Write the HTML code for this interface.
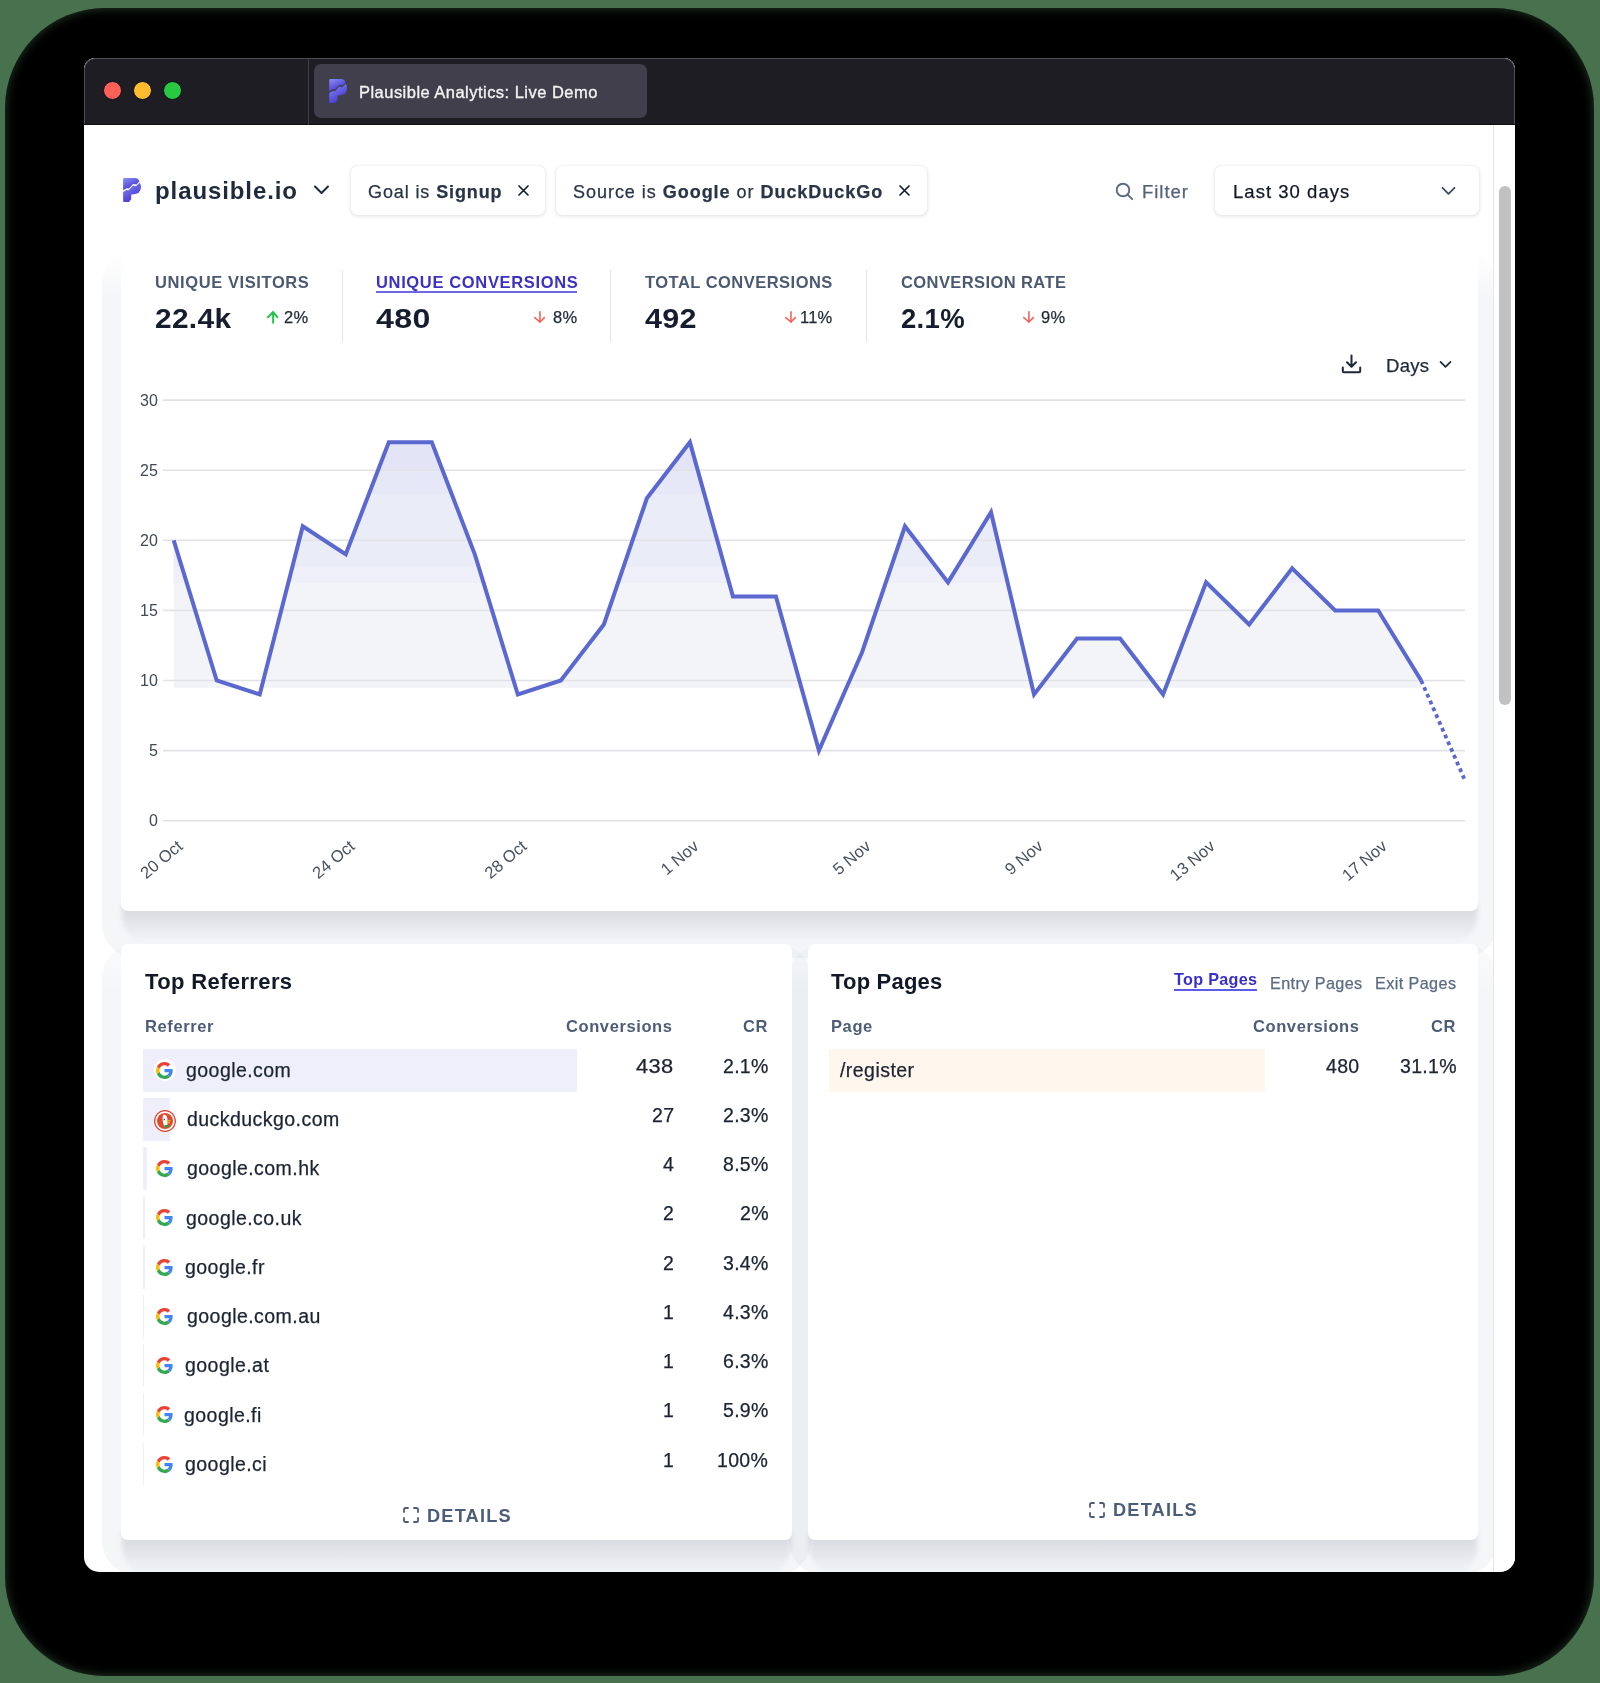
<!DOCTYPE html><html><head><meta charset="utf-8"><style>
*{box-sizing:border-box;margin:0;padding:0}
html,body{width:1600px;height:1683px;overflow:hidden;background:#48724e;font-family:"Liberation Sans", sans-serif}
.t{position:absolute;white-space:nowrap;will-change:transform}
.abs{position:absolute}
</style></head><body>

<div class="abs" style="left:5px;top:8px;width:1589px;height:1668px;background:#000;border-radius:100px;box-shadow:inset 0 0 10px 1px rgba(72,114,78,0.45)"></div>
<div class="abs" style="left:84px;top:58px;width:1431px;height:1514px;border-radius:11px 11px 15px 15px;background:#fff;overflow:hidden">
<div class="abs" style="left:0;top:0;width:1431px;height:67px;background:#1e1d24;border:1px solid #4d4c57;border-bottom:none;border-radius:11px 11px 0 0"></div>
<div class="abs" style="left:0;top:66px;width:1431px;height:1px;background:#0d0d10"></div>
<div class="abs" style="left:18.7px;top:22.8px;width:19.6px;height:19.6px;border-radius:50%;background:#fe5f57;border:1.1px solid #0d1320"></div>
<div class="abs" style="left:48.5px;top:22.8px;width:19.6px;height:19.6px;border-radius:50%;background:#febc2e;border:1.1px solid #0d1320"></div>
<div class="abs" style="left:78.5px;top:22.8px;width:19.6px;height:19.6px;border-radius:50%;background:#28c840;border:1.1px solid #0d1320"></div>
<div class="abs" style="left:223.5px;top:1px;width:1px;height:66px;background:#3e3e48"></div>
<div class="abs" style="left:230px;top:6px;width:332.5px;height:54.3px;background:#403f4b;border-radius:7px"></div>
<svg style="position:absolute;left:245px;top:21px" width="18.5" height="24" viewBox="0 0 18 24"><defs><linearGradient id="lg1" x1="0" y1="0" x2="0.6" y2="1"><stop offset="0" stop-color="#8a90f2"/><stop offset="1" stop-color="#4231d6"/></linearGradient></defs><path fill="url(#lg1)" d="M0 1.2Q0 0 1.2 0L12.3 0Q15.3 0 16.3 3.6L13.3 6.6L10.1 6.1L5.7 10.6L3.6 10.2L0 12.3Z"/><path fill="url(#lg1)" d="M0 14.1L3.4 11.9L5.6 12.3L10 7.6L12.9 8.2L16.5 4.8Q18 6.5 17.9 9.3Q17.6 16.3 9.6 16.4L8.1 16.4L8.1 21.2L5.9 24L1 24Q0 24 0 23Z"/></svg>
<div class="t" style="left:275px;top:23.80px;font-size:16.5px;line-height:16.50px;color:#f2f2f3;font-weight:400;letter-spacing:0.47px;-webkit-text-stroke:0.35px #f2f2f3;"><span style="position:relative;top:2.48px">Plausible Analytics: Live Demo</span></div>
<svg style="position:absolute;left:38.8px;top:120px" width="18.2" height="24" viewBox="0 0 18 24"><defs><linearGradient id="lg2" x1="0" y1="0" x2="0.6" y2="1"><stop offset="0" stop-color="#8a90f2"/><stop offset="1" stop-color="#4231d6"/></linearGradient></defs><path fill="url(#lg2)" d="M0 1.2Q0 0 1.2 0L12.3 0Q15.3 0 16.3 3.6L13.3 6.6L10.1 6.1L5.7 10.6L3.6 10.2L0 12.3Z"/><path fill="url(#lg2)" d="M0 14.1L3.4 11.9L5.6 12.3L10 7.6L12.9 8.2L16.5 4.8Q18 6.5 17.9 9.3Q17.6 16.3 9.6 16.4L8.1 16.4L8.1 21.2L5.9 24L1 24Q0 24 0 23Z"/></svg>
<div class="t" style="left:70.5px;top:117.00px;font-size:24px;line-height:24.00px;color:#1e293b;font-weight:700;letter-spacing:0.9px;"><span style="position:relative;top:3.60px">plausible.io</span></div>
<svg class="abs" style="left:229px;top:126px" width="17" height="12" viewBox="0 0 17 12"><path d="M2 2.5L8.5 9L15 2.5" fill="none" stroke="#1e293b" stroke-width="2" stroke-linecap="round" stroke-linejoin="round"/></svg>
<div class="abs" style="left:266.7px;top:108px;width:194.3px;height:48.7px;background:#fff;border-radius:6px;box-shadow:0 1px 4px rgba(20,30,60,.13),0 0 1px rgba(20,30,60,.18)"></div>
<div class="abs" style="left:471.8px;top:108px;width:370.9px;height:48.7px;background:#fff;border-radius:6px;box-shadow:0 1px 4px rgba(20,30,60,.13),0 0 1px rgba(20,30,60,.18)"></div>
<div class="abs" style="left:1131px;top:107.6px;width:263.5px;height:49.4px;background:#fff;border-radius:6px;box-shadow:0 1px 4px rgba(20,30,60,.13),0 0 1px rgba(20,30,60,.18)"></div>
<div class="t" style="left:284px;top:121.50px;font-size:18px;line-height:18.00px;color:#2a3447;font-weight:400;letter-spacing:0.89px;-webkit-text-stroke:0.25px #2a3447;"><span style="position:relative;top:2.70px">Goal is <b style="font-weight:700">Signup</b></span></div>
<div class="t" style="left:489px;top:121.50px;font-size:18px;line-height:18.00px;color:#2a3447;font-weight:400;letter-spacing:0.97px;-webkit-text-stroke:0.25px #2a3447;"><span style="position:relative;top:2.70px">Source is <b style="font-weight:700">Google</b> or <b style="font-weight:700">DuckDuckGo</b></span></div>
<svg class="abs" style="left:432.5px;top:126px" width="13" height="13" viewBox="0 0 13 13"><path d="M2 2L11 11M11 2L2 11" stroke="#101a2d" stroke-width="1.65" stroke-linecap="round"/></svg>
<svg class="abs" style="left:814px;top:126px" width="13" height="13" viewBox="0 0 13 13"><path d="M2 2L11 11M11 2L2 11" stroke="#101a2d" stroke-width="1.65" stroke-linecap="round"/></svg>
<svg class="abs" style="left:1031px;top:123.5px" width="19" height="19" viewBox="0 0 19 19"><circle cx="8" cy="8" r="6.3" fill="none" stroke="#5d6b82" stroke-width="1.9"/><path d="M12.6 12.6L17.2 17.2" stroke="#5d6b82" stroke-width="1.9" stroke-linecap="round"/></svg>
<div class="t" style="left:1057.5px;top:121.50px;font-size:18.5px;line-height:18.50px;color:#556379;font-weight:400;letter-spacing:0.98px;-webkit-text-stroke:0.25px #556379;"><span style="position:relative;top:2.77px">Filter</span></div>
<div class="t" style="left:1148.5px;top:121.50px;font-size:18.5px;line-height:18.50px;color:#111827;font-weight:400;letter-spacing:1.03px;-webkit-text-stroke:0.25px #111827;"><span style="position:relative;top:2.77px">Last 30 days</span></div>
<svg class="abs" style="left:1356.5px;top:127.5px" width="15" height="10" viewBox="0 0 15 10"><path d="M1.5 1.8L7.5 7.8L13.5 1.8" fill="none" stroke="#3a4a63" stroke-width="1.8" stroke-linecap="round" stroke-linejoin="round"/></svg>
<div class="abs" style="left:17.5px;top:192px;width:1395.5px;height:708px;border-radius:34px;background:linear-gradient(rgba(55,75,115,0.0) 0,rgba(55,75,115,0.05) 50px,rgba(55,75,115,0.05) 100%)"></div><div class="abs" style="left:37.5px;top:845px;width:1355.5px;height:41px;border-radius:0 0 28px 28px;filter:blur(2.5px);background:linear-gradient(rgba(40,45,70,0.14) 0,rgba(40,45,70,0.12) 25%,rgba(40,45,70,0.06) 62%,rgba(40,45,70,0) 100%)"></div>
<div class="abs" style="left:36.5px;top:178px;width:1357.5px;height:675px;background:#fff;border-radius:7px"></div>
<div class="t" style="left:70.5px;top:213.50px;font-size:16.5px;line-height:16.50px;color:#4b5a72;font-weight:700;letter-spacing:0.6px;"><span style="position:relative;top:2.48px">UNIQUE VISITORS</span></div>
<div class="t" style="left:292px;top:213.50px;font-size:16.5px;line-height:16.50px;color:#3b31c4;font-weight:700;letter-spacing:0.65px;"><span style="position:relative;top:2.48px">UNIQUE CONVERSIONS</span></div>
<div class="abs" style="left:292px;top:232.5px;width:201px;height:2px;background:#6d6ae0"></div>
<div class="t" style="left:560.5px;top:213.50px;font-size:16.5px;line-height:16.50px;color:#4b5a72;font-weight:700;letter-spacing:0.48px;"><span style="position:relative;top:2.48px">TOTAL CONVERSIONS</span></div>
<div class="t" style="left:816.5px;top:213.50px;font-size:16.5px;line-height:16.50px;color:#4b5a72;font-weight:700;letter-spacing:0.41px;"><span style="position:relative;top:2.48px">CONVERSION RATE</span></div>
<div class="t" style="left:70.5px;top:242.50px;font-size:27.5px;line-height:27.50px;color:#151d2e;font-weight:700;letter-spacing:0.3px;transform:scaleX(1.086);transform-origin:0 0;"><span style="position:relative;top:4.12px">22.4k</span></div>
<div class="t" style="left:292px;top:242.50px;font-size:27.5px;line-height:27.50px;color:#151d2e;font-weight:700;letter-spacing:0.3px;transform:scaleX(1.17);transform-origin:0 0;"><span style="position:relative;top:4.12px">480</span></div>
<div class="t" style="left:560.5px;top:242.50px;font-size:27.5px;line-height:27.50px;color:#151d2e;font-weight:700;letter-spacing:0.3px;transform:scaleX(1.11);transform-origin:0 0;"><span style="position:relative;top:4.12px">492</span></div>
<div class="t" style="left:816.5px;top:242.50px;font-size:27.5px;line-height:27.50px;color:#151d2e;font-weight:700;letter-spacing:0.3px;"><span style="position:relative;top:4.12px">2.1%</span></div>
<div class="abs" style="left:257.5px;top:212px;width:1px;height:72px;background:#e3e5e8"></div>
<div class="abs" style="left:525.9px;top:212px;width:1px;height:72px;background:#e3e5e8"></div>
<div class="abs" style="left:782.0px;top:212px;width:1px;height:72px;background:#e3e5e8"></div>
<svg class="abs" style="left:182.80px;top:252.60px;overflow:visible" width="12.3" height="13.8" viewBox="0 0 12.3 13.8"><path d="M6.15 11.8V1.3M1.0 6.2L6.15 1.0L10.3 6.2" fill="none" stroke="#20c54a" stroke-width="2.0" stroke-linecap="round" stroke-linejoin="round"/></svg>
<div class="t" style="right:1206.5px;top:249.20px;font-size:16.5px;line-height:16.50px;color:#1f2937;font-weight:400;letter-spacing:0.2px;text-align:right;-webkit-text-stroke:0.25px #1f2937;"><span style="position:relative;top:2.48px">2%</span></div>
<svg class="abs" style="left:450.00px;top:252.90px;overflow:visible" width="11.9" height="13.4" viewBox="0 0 11.9 13.4"><path d="M5.95 0.8V11.5M0.8 6.6L5.95 11.0L10.3 6.6" fill="none" stroke="#f0625a" stroke-width="1.6" stroke-linecap="round" stroke-linejoin="round"/></svg>
<div class="t" style="right:937.5px;top:249.20px;font-size:16.5px;line-height:16.50px;color:#1f2937;font-weight:400;letter-spacing:0.2px;text-align:right;-webkit-text-stroke:0.25px #1f2937;"><span style="position:relative;top:2.48px">8%</span></div>
<svg class="abs" style="left:701.40px;top:252.90px;overflow:visible" width="11.9" height="13.4" viewBox="0 0 11.9 13.4"><path d="M5.95 0.8V11.5M0.8 6.6L5.95 11.0L10.3 6.6" fill="none" stroke="#f0625a" stroke-width="1.6" stroke-linecap="round" stroke-linejoin="round"/></svg>
<div class="t" style="right:682.5px;top:249.20px;font-size:16.5px;line-height:16.50px;color:#1f2937;font-weight:400;letter-spacing:0.2px;text-align:right;-webkit-text-stroke:0.25px #1f2937;"><span style="position:relative;top:2.48px">11%</span></div>
<svg class="abs" style="left:939.30px;top:252.90px;overflow:visible" width="11.9" height="13.4" viewBox="0 0 11.9 13.4"><path d="M5.95 0.8V11.5M0.8 6.6L5.95 11.0L10.3 6.6" fill="none" stroke="#f0625a" stroke-width="1.6" stroke-linecap="round" stroke-linejoin="round"/></svg>
<div class="t" style="right:449.5px;top:249.20px;font-size:16.5px;line-height:16.50px;color:#1f2937;font-weight:400;letter-spacing:0.2px;text-align:right;-webkit-text-stroke:0.25px #1f2937;"><span style="position:relative;top:2.48px">9%</span></div>
<svg class="abs" style="left:1257px;top:295.5px" width="21" height="20" viewBox="0 0 21 20"><path d="M10.5 1.5V12.5M6 8.3L10.5 12.8L15 8.3" fill="none" stroke="#1e293b" stroke-width="2" stroke-linecap="round" stroke-linejoin="round"/><path d="M1.8 13.5V17.2Q1.8 18.3 2.9 18.3H18.1Q19.2 18.3 19.2 17.2V13.5" fill="none" stroke="#1e293b" stroke-width="2" stroke-linecap="round"/></svg>
<div class="t" style="left:1301.5px;top:295.50px;font-size:18.5px;line-height:18.50px;color:#1e293b;font-weight:400;letter-spacing:0.3px;-webkit-text-stroke:0.25px #1e293b;"><span style="position:relative;top:2.77px">Days</span></div>
<svg class="abs" style="left:1355px;top:302px" width="13" height="9" viewBox="0 0 13 9"><path d="M1.5 1.8L6.5 6.8L11.5 1.8" fill="none" stroke="#1e293b" stroke-width="1.7" stroke-linecap="round" stroke-linejoin="round"/></svg>
<svg class="abs" style="left:0;top:0" width="1431" height="1514" viewBox="84 58 1431 1514"><defs><linearGradient id="fillg" gradientUnits="userSpaceOnUse" x1="0" y1="400" x2="0" y2="821"><stop offset="0" stop-color="#e3e5f6"/><stop offset="0.166" stop-color="#e3e5f6"/><stop offset="0.166" stop-color="#e6e8f7"/><stop offset="0.223" stop-color="#e6e8f7"/><stop offset="0.223" stop-color="#eaecf8"/><stop offset="0.397" stop-color="#eaecf8"/><stop offset="0.397" stop-color="#eeeff9"/><stop offset="0.435" stop-color="#eeeff9"/><stop offset="0.435" stop-color="#f3f4f7"/><stop offset="0.684" stop-color="#f3f4f7"/><stop offset="0.684" stop-color="#ffffff" stop-opacity="0"/><stop offset="1" stop-color="#ffffff" stop-opacity="0"/></linearGradient></defs><polygon points="173.70,540.30 216.72,680.50 259.73,694.52 302.75,526.28 345.77,554.32 388.78,442.16 431.80,442.16 474.82,554.32 517.83,694.52 560.85,680.50 603.87,624.42 646.88,498.24 689.90,442.16 732.92,596.38 775.93,596.38 818.95,750.60 861.97,652.46 904.98,526.28 948.00,582.36 991.02,512.26 1034.03,694.52 1077.05,638.44 1120.07,638.44 1163.08,694.52 1206.10,582.36 1249.12,624.42 1292.13,568.34 1335.15,610.40 1378.17,610.40 1421.18,680.50 1421.18,820.7 173.70,820.7" fill="url(#fillg)"/><line x1="163" y1="820.70" x2="1465" y2="820.70" stroke="#e1e2e5" stroke-width="1.6"/><line x1="163" y1="750.60" x2="1465" y2="750.60" stroke="#e1e2e5" stroke-width="1.6"/><line x1="163" y1="680.50" x2="1465" y2="680.50" stroke="#e1e2e5" stroke-width="1.6"/><line x1="163" y1="610.40" x2="1465" y2="610.40" stroke="#e1e2e5" stroke-width="1.6"/><line x1="163" y1="540.30" x2="1465" y2="540.30" stroke="#e1e2e5" stroke-width="1.6"/><line x1="163" y1="470.20" x2="1465" y2="470.20" stroke="#e1e2e5" stroke-width="1.6"/><line x1="163" y1="400.10" x2="1465" y2="400.10" stroke="#e1e2e5" stroke-width="1.6"/><polyline points="173.70,540.30 216.72,680.50 259.73,694.52 302.75,526.28 345.77,554.32 388.78,442.16 431.80,442.16 474.82,554.32 517.83,694.52 560.85,680.50 603.87,624.42 646.88,498.24 689.90,442.16 732.92,596.38 775.93,596.38 818.95,750.60 861.97,652.46 904.98,526.28 948.00,582.36 991.02,512.26 1034.03,694.52 1077.05,638.44 1120.07,638.44 1163.08,694.52 1206.10,582.36 1249.12,624.42 1292.13,568.34 1335.15,610.40 1378.17,610.40 1421.18,680.50" fill="none" stroke="#5a68d0" stroke-width="4" stroke-linejoin="miter" stroke-miterlimit="10"/><line x1="1421.18" y1="680.50" x2="1464.20" y2="778.64" stroke="#5a68d0" stroke-width="3.8" stroke-dasharray="3.8 3.6"/><text x="157.8" y="826.30" text-anchor="end" font-family="Liberation Sans" font-size="16" fill="#414a58">0</text><text x="157.8" y="756.20" text-anchor="end" font-family="Liberation Sans" font-size="16" fill="#414a58">5</text><text x="157.8" y="686.10" text-anchor="end" font-family="Liberation Sans" font-size="16" fill="#414a58">10</text><text x="157.8" y="616.00" text-anchor="end" font-family="Liberation Sans" font-size="16" fill="#414a58">15</text><text x="157.8" y="545.90" text-anchor="end" font-family="Liberation Sans" font-size="16" fill="#414a58">20</text><text x="157.8" y="475.80" text-anchor="end" font-family="Liberation Sans" font-size="16" fill="#414a58">25</text><text x="157.8" y="405.70" text-anchor="end" font-family="Liberation Sans" font-size="16" fill="#414a58">30</text><text transform="translate(183.70,848) rotate(-40)" text-anchor="end" font-family="Liberation Sans" font-size="16.6" fill="#48505f">20 Oct</text><text transform="translate(355.77,848) rotate(-40)" text-anchor="end" font-family="Liberation Sans" font-size="16.6" fill="#48505f">24 Oct</text><text transform="translate(527.83,848) rotate(-40)" text-anchor="end" font-family="Liberation Sans" font-size="16.6" fill="#48505f">28 Oct</text><text transform="translate(699.90,848) rotate(-40)" text-anchor="end" font-family="Liberation Sans" font-size="16.6" fill="#48505f">1 Nov</text><text transform="translate(871.97,848) rotate(-40)" text-anchor="end" font-family="Liberation Sans" font-size="16.6" fill="#48505f">5 Nov</text><text transform="translate(1044.03,848) rotate(-40)" text-anchor="end" font-family="Liberation Sans" font-size="16.6" fill="#48505f">9 Nov</text><text transform="translate(1216.10,848) rotate(-40)" text-anchor="end" font-family="Liberation Sans" font-size="16.6" fill="#48505f">13 Nov</text><text transform="translate(1388.17,848) rotate(-40)" text-anchor="end" font-family="Liberation Sans" font-size="16.6" fill="#48505f">17 Nov</text></svg>
<div class="abs" style="left:17.5px;top:886px;width:709.0px;height:631px;border-radius:34px;background:linear-gradient(rgba(55,75,115,0.022) 0,rgba(55,75,115,0.05) 48px,rgba(55,75,115,0.05) 100%)"></div><div class="abs" style="left:37.5px;top:1474px;width:669.0px;height:43px;border-radius:0 0 28px 28px;filter:blur(2.5px);background:linear-gradient(rgba(40,45,70,0.14) 0,rgba(40,45,70,0.12) 24%,rgba(40,45,70,0.06) 62%,rgba(40,45,70,0) 100%)"></div>
<div class="abs" style="left:704.8px;top:886px;width:708.2px;height:631px;border-radius:34px;background:linear-gradient(rgba(55,75,115,0.022) 0,rgba(55,75,115,0.05) 48px,rgba(55,75,115,0.05) 100%)"></div><div class="abs" style="left:724.8px;top:1474px;width:668.2px;height:43px;border-radius:0 0 28px 28px;filter:blur(2.5px);background:linear-gradient(rgba(40,45,70,0.14) 0,rgba(40,45,70,0.12) 24%,rgba(40,45,70,0.06) 62%,rgba(40,45,70,0) 100%)"></div>
<div class="abs" style="left:36.5px;top:886px;width:671.0px;height:596px;background:#fff;border-radius:7px"></div>
<div class="abs" style="left:723.8px;top:886px;width:670.2px;height:596px;background:#fff;border-radius:7px"></div>
<div class="t" style="left:60.5px;top:910.00px;font-size:22px;line-height:22.00px;color:#111827;font-weight:700;letter-spacing:0.37px;"><span style="position:relative;top:3.30px">Top Referrers</span></div>
<div class="t" style="left:60.5px;top:958.00px;font-size:16.5px;line-height:16.50px;color:#4d5d78;font-weight:700;letter-spacing:0.6px;"><span style="position:relative;top:2.48px">Referrer</span></div>
<div class="t" style="right:842px;top:958.00px;font-size:16.5px;line-height:16.50px;color:#4d5d78;font-weight:700;letter-spacing:0.6px;text-align:right;"><span style="position:relative;top:2.48px">Conversions</span></div>
<div class="t" style="right:746.5px;top:958.00px;font-size:16.5px;line-height:16.50px;color:#4d5d78;font-weight:700;letter-spacing:0.6px;text-align:right;"><span style="position:relative;top:2.48px">CR</span></div>
<div class="abs" style="left:59px;top:990.5px;width:434.0px;height:43px;background:#eeeffb"></div>
<div class="abs" style="left:69.5px;top:1001.0px;width:22px;height:22px;border-radius:50%;background:#fff"></div>
<svg width="17" height="17" viewBox="0 0 48 48" style="position:absolute;left:72px;top:1003.5px"><path fill="#EA4335" d="M24 9.5c3.54 0 6.71 1.22 9.21 3.6l6.85-6.85C35.9 2.38 30.47 0 24 0 14.62 0 6.51 5.38 2.56 13.22l7.98 6.19C12.43 13.72 17.74 9.5 24 9.5z"/><path fill="#4285F4" d="M46.98 24.55c0-1.57-.15-3.09-.38-4.55H24v9.02h12.94c-.58 2.960-2.26 5.48-4.78 7.18l7.73 6c4.51-4.18 7.09-10.36 7.09-17.65z"/><path fill="#FBBC05" d="M10.53 28.59c-.48-1.450-.76-2.990-.76-4.59s.27-3.14.76-4.59l-7.98-6.19C.92 16.46 0 20.12 0 24c0 3.88.92 7.54 2.56 10.78l7.97-6.19z"/><path fill="#34A853" d="M24 48c6.48 0 11.93-2.13 15.89-5.81l-7.73-6c-2.15 1.45-4.92 2.3-8.16 2.3-6.26 0-11.57-4.22-13.47-9.91l-7.98 6.19C6.51 42.62 14.62 48 24 48z"/></svg>
<div class="t" style="left:102px;top:999.90px;font-size:19.5px;line-height:19.50px;color:#1c2433;font-weight:400;letter-spacing:0.45px;-webkit-text-stroke:0.25px #1c2433;"><span style="position:relative;top:2.92px">google.com</span></div>
<div class="t" style="right:841.2px;top:995.50px;font-size:19.5px;line-height:19.50px;color:#1c2433;font-weight:400;letter-spacing:0.3px;text-align:right;transform:scaleX(1.12);transform-origin:100% 0;-webkit-text-stroke:0.25px #1c2433;"><span style="position:relative;top:2.92px">438</span></div>
<div class="t" style="right:746.5px;top:995.50px;font-size:19.5px;line-height:19.50px;color:#1c2433;font-weight:400;letter-spacing:0.3px;text-align:right;-webkit-text-stroke:0.25px #1c2433;"><span style="position:relative;top:2.92px">2.1%</span></div>
<div class="abs" style="left:59px;top:1039.75px;width:26.8px;height:43px;background:#eeeffb"></div>
<svg width="22" height="22" viewBox="0 0 22 22" style="position:absolute;left:69.9px;top:1051.85px"><circle cx="11" cy="11" r="10.4" fill="#fff" stroke="#e0442c" stroke-width="1.3"/><circle cx="11" cy="11" r="8" fill="#df4a2e"/><path d="M9.6 4.6Q13.2 4.8 13.4 9.5L13.6 14.6Q12 16.8 10.2 16.6Q8.4 12 8.6 8Q8.8 5.5 9.6 4.6Z" fill="#fff"/><circle cx="10.3" cy="9.4" r="0.75" fill="#2b3552"/><circle cx="13.3" cy="9.1" r="0.6" fill="#a9b2ee"/><path d="M12.6 10.6L16.4 9.9L16.3 11.3L12.8 11.6Z" fill="#fdc010"/><path d="M12.8 12.3L15.9 12.1L15.8 13.2L12.9 13.3Z" fill="#fdc010"/><path d="M10.4 15.1L14.6 14.8L14.4 17.2L10.6 17.5Z" fill="#22a640"/></svg>
<div class="t" style="left:103.4px;top:1049.15px;font-size:19.5px;line-height:19.50px;color:#1c2433;font-weight:400;letter-spacing:0.45px;-webkit-text-stroke:0.25px #1c2433;"><span style="position:relative;top:2.92px">duckduckgo.com</span></div>
<div class="t" style="right:841.2px;top:1044.75px;font-size:19.5px;line-height:19.50px;color:#1c2433;font-weight:400;letter-spacing:0.3px;text-align:right;-webkit-text-stroke:0.25px #1c2433;"><span style="position:relative;top:2.92px">27</span></div>
<div class="t" style="right:746.5px;top:1044.75px;font-size:19.5px;line-height:19.50px;color:#1c2433;font-weight:400;letter-spacing:0.3px;text-align:right;-webkit-text-stroke:0.25px #1c2433;"><span style="position:relative;top:2.92px">2.3%</span></div>
<div class="abs" style="left:59px;top:1089.0px;width:4.0px;height:43px;background:#eeeffb"></div>
<svg width="17" height="17" viewBox="0 0 48 48" style="position:absolute;left:72px;top:1102.0px"><path fill="#EA4335" d="M24 9.5c3.54 0 6.71 1.22 9.21 3.6l6.85-6.85C35.9 2.38 30.47 0 24 0 14.62 0 6.51 5.38 2.56 13.22l7.98 6.19C12.43 13.72 17.74 9.5 24 9.5z"/><path fill="#4285F4" d="M46.98 24.55c0-1.57-.15-3.09-.38-4.55H24v9.02h12.94c-.58 2.960-2.26 5.48-4.78 7.18l7.73 6c4.51-4.18 7.09-10.36 7.09-17.65z"/><path fill="#FBBC05" d="M10.53 28.59c-.48-1.450-.76-2.990-.76-4.59s.27-3.14.76-4.59l-7.98-6.19C.92 16.46 0 20.12 0 24c0 3.88.92 7.54 2.56 10.78l7.97-6.19z"/><path fill="#34A853" d="M24 48c6.48 0 11.93-2.13 15.89-5.81l-7.73-6c-2.15 1.45-4.92 2.3-8.16 2.3-6.26 0-11.57-4.22-13.47-9.91l-7.98 6.19C6.51 42.62 14.62 48 24 48z"/></svg>
<div class="t" style="left:102.5px;top:1098.40px;font-size:19.5px;line-height:19.50px;color:#1c2433;font-weight:400;letter-spacing:0.45px;-webkit-text-stroke:0.25px #1c2433;"><span style="position:relative;top:2.92px">google.com.hk</span></div>
<div class="t" style="right:841.2px;top:1094.00px;font-size:19.5px;line-height:19.50px;color:#1c2433;font-weight:400;letter-spacing:0.3px;text-align:right;-webkit-text-stroke:0.25px #1c2433;"><span style="position:relative;top:2.92px">4</span></div>
<div class="t" style="right:746.5px;top:1094.00px;font-size:19.5px;line-height:19.50px;color:#1c2433;font-weight:400;letter-spacing:0.3px;text-align:right;-webkit-text-stroke:0.25px #1c2433;"><span style="position:relative;top:2.92px">8.5%</span></div>
<div class="abs" style="left:59px;top:1138.25px;width:2.0px;height:43px;background:#eeeffb"></div>
<svg width="17" height="17" viewBox="0 0 48 48" style="position:absolute;left:72px;top:1151.25px"><path fill="#EA4335" d="M24 9.5c3.54 0 6.71 1.22 9.21 3.6l6.85-6.85C35.9 2.38 30.47 0 24 0 14.62 0 6.51 5.38 2.56 13.22l7.98 6.19C12.43 13.72 17.74 9.5 24 9.5z"/><path fill="#4285F4" d="M46.98 24.55c0-1.57-.15-3.09-.38-4.55H24v9.02h12.94c-.58 2.960-2.26 5.48-4.78 7.18l7.73 6c4.51-4.18 7.09-10.36 7.09-17.65z"/><path fill="#FBBC05" d="M10.53 28.59c-.48-1.450-.76-2.990-.76-4.59s.27-3.14.76-4.59l-7.98-6.19C.92 16.46 0 20.12 0 24c0 3.88.92 7.54 2.56 10.78l7.97-6.19z"/><path fill="#34A853" d="M24 48c6.48 0 11.93-2.13 15.89-5.81l-7.73-6c-2.15 1.45-4.92 2.3-8.16 2.3-6.26 0-11.57-4.22-13.47-9.91l-7.98 6.19C6.51 42.62 14.62 48 24 48z"/></svg>
<div class="t" style="left:102.1px;top:1147.65px;font-size:19.5px;line-height:19.50px;color:#1c2433;font-weight:400;letter-spacing:0.45px;-webkit-text-stroke:0.25px #1c2433;"><span style="position:relative;top:2.92px">google.co.uk</span></div>
<div class="t" style="right:841.2px;top:1143.25px;font-size:19.5px;line-height:19.50px;color:#1c2433;font-weight:400;letter-spacing:0.3px;text-align:right;-webkit-text-stroke:0.25px #1c2433;"><span style="position:relative;top:2.92px">2</span></div>
<div class="t" style="right:746.5px;top:1143.25px;font-size:19.5px;line-height:19.50px;color:#1c2433;font-weight:400;letter-spacing:0.3px;text-align:right;-webkit-text-stroke:0.25px #1c2433;"><span style="position:relative;top:2.92px">2%</span></div>
<div class="abs" style="left:59px;top:1187.5px;width:2.0px;height:43px;background:#eeeffb"></div>
<svg width="17" height="17" viewBox="0 0 48 48" style="position:absolute;left:72px;top:1200.5px"><path fill="#EA4335" d="M24 9.5c3.54 0 6.71 1.22 9.21 3.6l6.85-6.85C35.9 2.38 30.47 0 24 0 14.62 0 6.51 5.38 2.56 13.22l7.98 6.19C12.43 13.72 17.74 9.5 24 9.5z"/><path fill="#4285F4" d="M46.98 24.55c0-1.57-.15-3.09-.38-4.55H24v9.02h12.94c-.58 2.960-2.26 5.48-4.78 7.18l7.73 6c4.51-4.18 7.09-10.36 7.09-17.65z"/><path fill="#FBBC05" d="M10.53 28.59c-.48-1.450-.76-2.990-.76-4.59s.27-3.14.76-4.59l-7.98-6.19C.92 16.46 0 20.12 0 24c0 3.88.92 7.54 2.56 10.78l7.97-6.19z"/><path fill="#34A853" d="M24 48c6.48 0 11.93-2.13 15.89-5.81l-7.73-6c-2.15 1.45-4.92 2.3-8.16 2.3-6.26 0-11.57-4.22-13.47-9.91l-7.98 6.19C6.51 42.62 14.62 48 24 48z"/></svg>
<div class="t" style="left:100.8px;top:1196.90px;font-size:19.5px;line-height:19.50px;color:#1c2433;font-weight:400;letter-spacing:0.45px;-webkit-text-stroke:0.25px #1c2433;"><span style="position:relative;top:2.92px">google.fr</span></div>
<div class="t" style="right:841.2px;top:1192.50px;font-size:19.5px;line-height:19.50px;color:#1c2433;font-weight:400;letter-spacing:0.3px;text-align:right;-webkit-text-stroke:0.25px #1c2433;"><span style="position:relative;top:2.92px">2</span></div>
<div class="t" style="right:746.5px;top:1192.50px;font-size:19.5px;line-height:19.50px;color:#1c2433;font-weight:400;letter-spacing:0.3px;text-align:right;-webkit-text-stroke:0.25px #1c2433;"><span style="position:relative;top:2.92px">3.4%</span></div>
<div class="abs" style="left:59px;top:1236.75px;width:1.0px;height:43px;background:#eeeffb"></div>
<svg width="17" height="17" viewBox="0 0 48 48" style="position:absolute;left:72px;top:1249.75px"><path fill="#EA4335" d="M24 9.5c3.54 0 6.71 1.22 9.21 3.6l6.85-6.85C35.9 2.38 30.47 0 24 0 14.62 0 6.51 5.38 2.56 13.22l7.98 6.19C12.43 13.72 17.74 9.5 24 9.5z"/><path fill="#4285F4" d="M46.98 24.55c0-1.57-.15-3.09-.38-4.55H24v9.02h12.94c-.58 2.960-2.26 5.48-4.78 7.18l7.73 6c4.51-4.18 7.09-10.36 7.09-17.65z"/><path fill="#FBBC05" d="M10.53 28.59c-.48-1.450-.76-2.990-.76-4.59s.27-3.14.76-4.59l-7.98-6.19C.92 16.46 0 20.12 0 24c0 3.88.92 7.54 2.56 10.78l7.97-6.19z"/><path fill="#34A853" d="M24 48c6.48 0 11.93-2.13 15.89-5.81l-7.73-6c-2.15 1.45-4.92 2.3-8.16 2.3-6.26 0-11.57-4.22-13.47-9.91l-7.98 6.19C6.51 42.62 14.62 48 24 48z"/></svg>
<div class="t" style="left:103px;top:1246.15px;font-size:19.5px;line-height:19.50px;color:#1c2433;font-weight:400;letter-spacing:0.45px;-webkit-text-stroke:0.25px #1c2433;"><span style="position:relative;top:2.92px">google.com.au</span></div>
<div class="t" style="right:841.2px;top:1241.75px;font-size:19.5px;line-height:19.50px;color:#1c2433;font-weight:400;letter-spacing:0.3px;text-align:right;-webkit-text-stroke:0.25px #1c2433;"><span style="position:relative;top:2.92px">1</span></div>
<div class="t" style="right:746.5px;top:1241.75px;font-size:19.5px;line-height:19.50px;color:#1c2433;font-weight:400;letter-spacing:0.3px;text-align:right;-webkit-text-stroke:0.25px #1c2433;"><span style="position:relative;top:2.92px">4.3%</span></div>
<div class="abs" style="left:59px;top:1286.0px;width:1.0px;height:43px;background:#eeeffb"></div>
<svg width="17" height="17" viewBox="0 0 48 48" style="position:absolute;left:72px;top:1299.0px"><path fill="#EA4335" d="M24 9.5c3.54 0 6.71 1.22 9.21 3.6l6.85-6.85C35.9 2.38 30.47 0 24 0 14.62 0 6.51 5.38 2.56 13.22l7.98 6.19C12.43 13.72 17.74 9.5 24 9.5z"/><path fill="#4285F4" d="M46.98 24.55c0-1.57-.15-3.09-.38-4.55H24v9.02h12.94c-.58 2.960-2.26 5.48-4.78 7.18l7.73 6c4.51-4.18 7.09-10.36 7.09-17.65z"/><path fill="#FBBC05" d="M10.53 28.59c-.48-1.450-.76-2.990-.76-4.59s.27-3.14.76-4.59l-7.98-6.19C.92 16.46 0 20.12 0 24c0 3.88.92 7.54 2.56 10.78l7.97-6.19z"/><path fill="#34A853" d="M24 48c6.48 0 11.93-2.13 15.89-5.81l-7.73-6c-2.15 1.45-4.92 2.3-8.16 2.3-6.26 0-11.57-4.22-13.47-9.91l-7.98 6.19C6.51 42.62 14.62 48 24 48z"/></svg>
<div class="t" style="left:100.8px;top:1295.40px;font-size:19.5px;line-height:19.50px;color:#1c2433;font-weight:400;letter-spacing:0.45px;-webkit-text-stroke:0.25px #1c2433;"><span style="position:relative;top:2.92px">google.at</span></div>
<div class="t" style="right:841.2px;top:1291.00px;font-size:19.5px;line-height:19.50px;color:#1c2433;font-weight:400;letter-spacing:0.3px;text-align:right;-webkit-text-stroke:0.25px #1c2433;"><span style="position:relative;top:2.92px">1</span></div>
<div class="t" style="right:746.5px;top:1291.00px;font-size:19.5px;line-height:19.50px;color:#1c2433;font-weight:400;letter-spacing:0.3px;text-align:right;-webkit-text-stroke:0.25px #1c2433;"><span style="position:relative;top:2.92px">6.3%</span></div>
<div class="abs" style="left:59px;top:1335.25px;width:1.0px;height:43px;background:#eeeffb"></div>
<svg width="17" height="17" viewBox="0 0 48 48" style="position:absolute;left:72px;top:1348.25px"><path fill="#EA4335" d="M24 9.5c3.54 0 6.71 1.22 9.21 3.6l6.85-6.85C35.9 2.38 30.47 0 24 0 14.62 0 6.51 5.38 2.56 13.22l7.98 6.19C12.43 13.72 17.74 9.5 24 9.5z"/><path fill="#4285F4" d="M46.98 24.55c0-1.57-.15-3.09-.38-4.55H24v9.02h12.94c-.58 2.960-2.26 5.48-4.78 7.18l7.73 6c4.51-4.18 7.09-10.36 7.09-17.65z"/><path fill="#FBBC05" d="M10.53 28.59c-.48-1.450-.76-2.990-.76-4.59s.27-3.14.76-4.59l-7.98-6.19C.92 16.46 0 20.12 0 24c0 3.88.92 7.54 2.56 10.78l7.97-6.19z"/><path fill="#34A853" d="M24 48c6.48 0 11.93-2.13 15.89-5.81l-7.73-6c-2.15 1.45-4.92 2.3-8.16 2.3-6.26 0-11.57-4.22-13.47-9.91l-7.98 6.19C6.51 42.62 14.62 48 24 48z"/></svg>
<div class="t" style="left:100.4px;top:1344.65px;font-size:19.5px;line-height:19.50px;color:#1c2433;font-weight:400;letter-spacing:0.45px;-webkit-text-stroke:0.25px #1c2433;"><span style="position:relative;top:2.92px">google.fi</span></div>
<div class="t" style="right:841.2px;top:1340.25px;font-size:19.5px;line-height:19.50px;color:#1c2433;font-weight:400;letter-spacing:0.3px;text-align:right;-webkit-text-stroke:0.25px #1c2433;"><span style="position:relative;top:2.92px">1</span></div>
<div class="t" style="right:746.5px;top:1340.25px;font-size:19.5px;line-height:19.50px;color:#1c2433;font-weight:400;letter-spacing:0.3px;text-align:right;-webkit-text-stroke:0.25px #1c2433;"><span style="position:relative;top:2.92px">5.9%</span></div>
<div class="abs" style="left:59px;top:1384.5px;width:1.0px;height:43px;background:#eeeffb"></div>
<svg width="17" height="17" viewBox="0 0 48 48" style="position:absolute;left:72px;top:1397.5px"><path fill="#EA4335" d="M24 9.5c3.54 0 6.71 1.22 9.21 3.6l6.85-6.85C35.9 2.38 30.47 0 24 0 14.62 0 6.51 5.38 2.56 13.22l7.98 6.19C12.43 13.72 17.74 9.5 24 9.5z"/><path fill="#4285F4" d="M46.98 24.55c0-1.57-.15-3.09-.38-4.55H24v9.02h12.94c-.58 2.960-2.26 5.48-4.78 7.18l7.73 6c4.51-4.18 7.09-10.36 7.09-17.65z"/><path fill="#FBBC05" d="M10.53 28.59c-.48-1.450-.76-2.990-.76-4.59s.27-3.14.76-4.59l-7.98-6.19C.92 16.46 0 20.12 0 24c0 3.88.92 7.54 2.56 10.78l7.97-6.19z"/><path fill="#34A853" d="M24 48c6.48 0 11.93-2.13 15.89-5.81l-7.73-6c-2.15 1.45-4.92 2.3-8.16 2.3-6.26 0-11.57-4.22-13.47-9.91l-7.98 6.19C6.51 42.62 14.62 48 24 48z"/></svg>
<div class="t" style="left:100.8px;top:1393.90px;font-size:19.5px;line-height:19.50px;color:#1c2433;font-weight:400;letter-spacing:0.45px;-webkit-text-stroke:0.25px #1c2433;"><span style="position:relative;top:2.92px">google.ci</span></div>
<div class="t" style="right:841.2px;top:1389.50px;font-size:19.5px;line-height:19.50px;color:#1c2433;font-weight:400;letter-spacing:0.3px;text-align:right;-webkit-text-stroke:0.25px #1c2433;"><span style="position:relative;top:2.92px">1</span></div>
<div class="t" style="right:746.5px;top:1389.50px;font-size:19.5px;line-height:19.50px;color:#1c2433;font-weight:400;letter-spacing:0.3px;text-align:right;-webkit-text-stroke:0.25px #1c2433;"><span style="position:relative;top:2.92px">100%</span></div>
<svg class="abs" style="left:318.8px;top:1449.3px" width="16" height="16" viewBox="0 0 16 16"><path d="M1 5V2.6Q1 1 2.6 1H5M11 1H13.4Q15 1 15 2.6V5M15 11V13.4Q15 15 13.4 15H11M5 15H2.6Q1 15 1 13.4V11" fill="none" stroke="#4b5d7b" stroke-width="1.8" stroke-linecap="round"/></svg>
<div class="t" style="left:343px;top:1445.60px;font-size:18.2px;line-height:18.20px;color:#4b5d7b;font-weight:700;letter-spacing:1.2px;"><span style="position:relative;top:2.73px">DETAILS</span></div>
<div class="t" style="left:746.8px;top:910.00px;font-size:22px;line-height:22.00px;color:#111827;font-weight:700;letter-spacing:0.2px;"><span style="position:relative;top:3.30px">Top Pages</span></div>
<div class="t" style="left:1089.6px;top:911.10px;font-size:16.2px;line-height:16.20px;color:#3730c8;font-weight:700;letter-spacing:0.3px;"><span style="position:relative;top:2.43px">Top Pages</span></div>
<div class="abs" style="left:1089.6px;top:930.7px;width:83.4px;height:2px;background:#5b5be8"></div>
<div class="t" style="left:1186px;top:914.50px;font-size:16.2px;line-height:16.20px;color:#5b6b84;font-weight:400;letter-spacing:0.4px;-webkit-text-stroke:0.25px #5b6b84;"><span style="position:relative;top:2.43px">Entry Pages</span></div>
<div class="t" style="left:1291px;top:914.50px;font-size:16.2px;line-height:16.20px;color:#5b6b84;font-weight:400;letter-spacing:0.4px;-webkit-text-stroke:0.25px #5b6b84;"><span style="position:relative;top:2.43px">Exit Pages</span></div>
<div class="t" style="left:746.8px;top:958.00px;font-size:16.5px;line-height:16.50px;color:#4d5d78;font-weight:700;letter-spacing:0.6px;"><span style="position:relative;top:2.48px">Page</span></div>
<div class="t" style="right:155.5px;top:958.00px;font-size:16.5px;line-height:16.50px;color:#4d5d78;font-weight:700;letter-spacing:0.6px;text-align:right;"><span style="position:relative;top:2.48px">Conversions</span></div>
<div class="t" style="right:58.5px;top:958.00px;font-size:16.5px;line-height:16.50px;color:#4d5d78;font-weight:700;letter-spacing:0.6px;text-align:right;"><span style="position:relative;top:2.48px">CR</span></div>
<div class="abs" style="left:745px;top:990.5px;width:435.8px;height:43px;background:#fff7ed"></div>
<div class="t" style="left:756px;top:999.90px;font-size:19.5px;line-height:19.50px;color:#1c2433;font-weight:400;letter-spacing:0.45px;-webkit-text-stroke:0.25px #1c2433;"><span style="position:relative;top:2.92px">/register</span></div>
<div class="t" style="right:155.5px;top:995.50px;font-size:19.5px;line-height:19.50px;color:#1c2433;font-weight:400;letter-spacing:0.3px;text-align:right;-webkit-text-stroke:0.25px #1c2433;"><span style="position:relative;top:2.92px">480</span></div>
<div class="t" style="right:58.5px;top:995.50px;font-size:19.5px;line-height:19.50px;color:#1c2433;font-weight:400;letter-spacing:0.3px;text-align:right;-webkit-text-stroke:0.25px #1c2433;"><span style="position:relative;top:2.92px">31.1%</span></div>
<svg class="abs" style="left:1005px;top:1443.5px" width="16" height="16" viewBox="0 0 16 16"><path d="M1 5V2.6Q1 1 2.6 1H5M11 1H13.4Q15 1 15 2.6V5M15 11V13.4Q15 15 13.4 15H11M5 15H2.6Q1 15 1 13.4V11" fill="none" stroke="#4b5d7b" stroke-width="1.8" stroke-linecap="round"/></svg>
<div class="t" style="left:1029.3px;top:1439.80px;font-size:18.2px;line-height:18.20px;color:#4b5d7b;font-weight:700;letter-spacing:1.2px;"><span style="position:relative;top:2.73px">DETAILS</span></div>
<div class="abs" style="left:1409px;top:67px;width:22px;height:1450px;background:#fff"></div>
<div class="abs" style="left:1409px;top:67px;width:1px;height:1450px;background:#e6e6e8"></div>
<div class="abs" style="left:1414.5px;top:127.5px;width:12px;height:519px;border-radius:6px;background:#c1c1c1"></div>
</div>
</body></html>
